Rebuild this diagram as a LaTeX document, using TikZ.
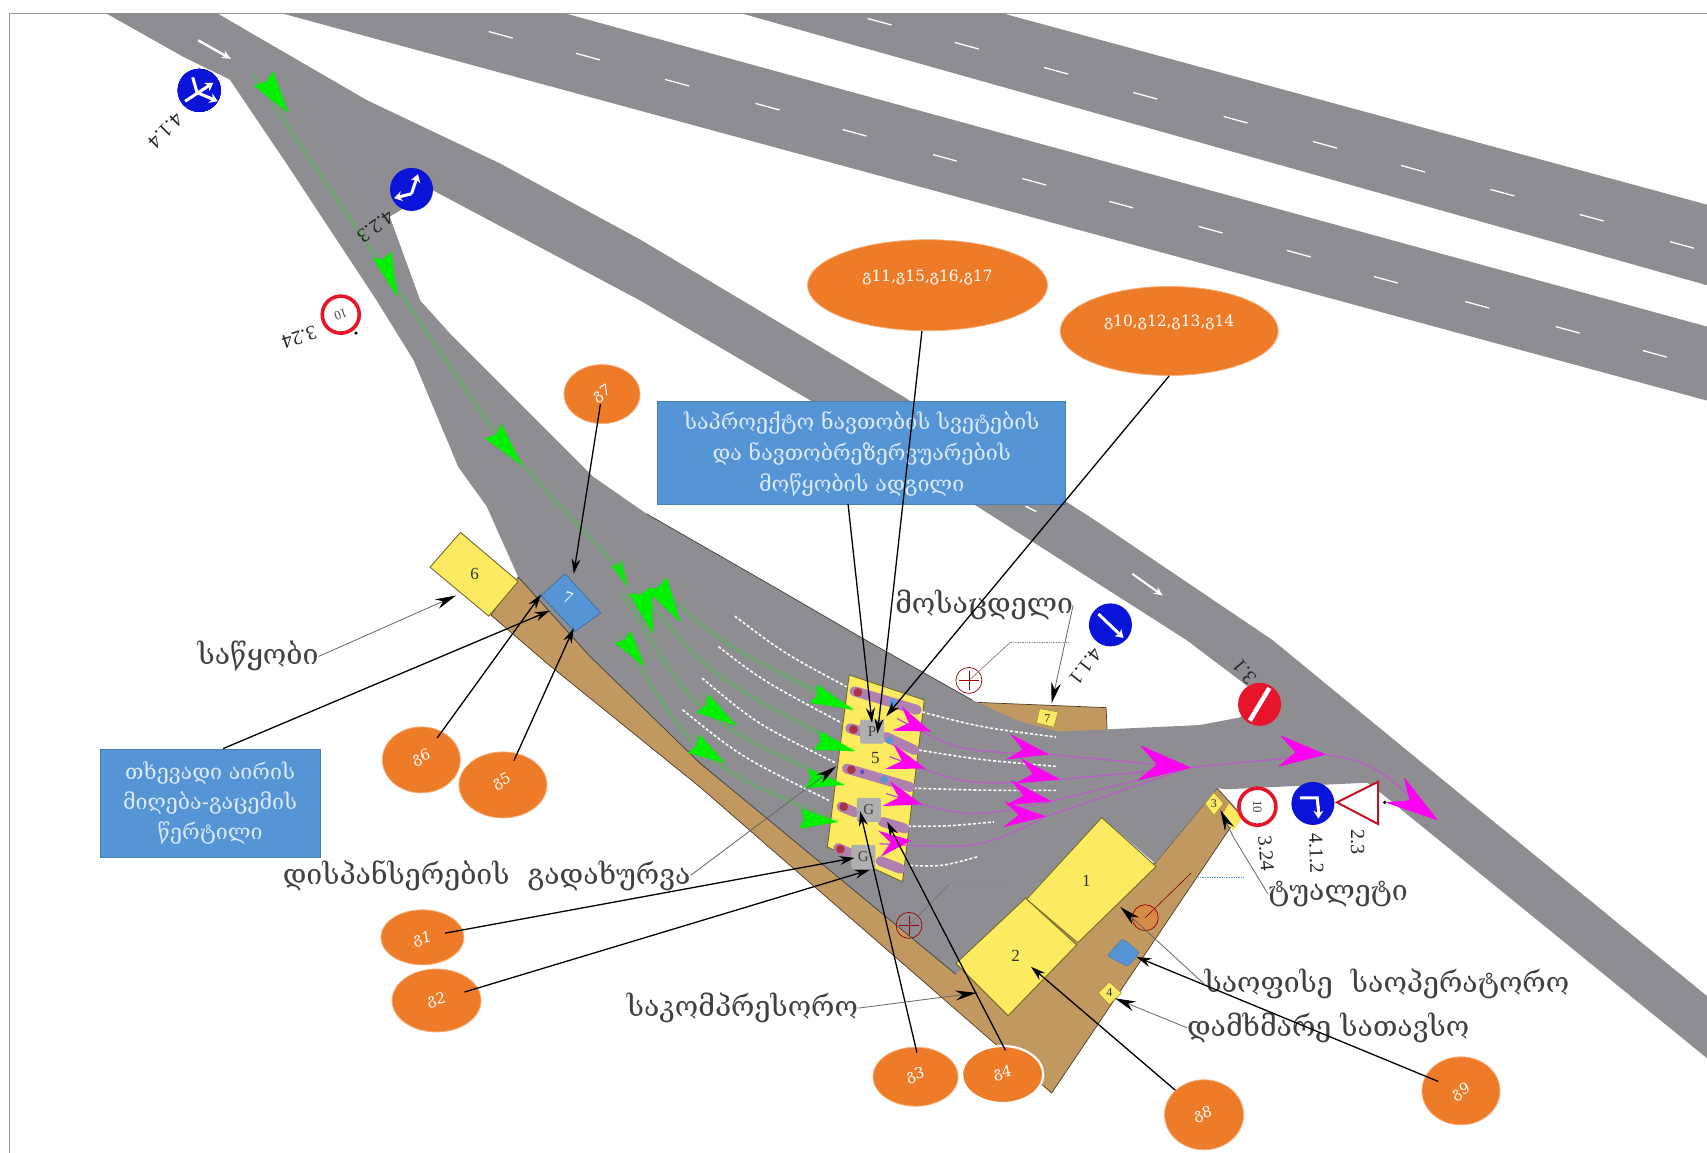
\documentclass[tikz,border=0pt]{standalone}
\usepackage{fontspec}
\usetikzlibrary{arrows.meta,shapes.geometric,calc}
\setmainfont{Liberation Serif}
\newfontfamily\geo{DejaVu Serif}
\newfontfamily\geos{DejaVu Sans}
\definecolor{roadc}{HTML}{8E8E92}
\definecolor{brownc}{HTML}{C19860}
\definecolor{yelc}{HTML}{FCEB60}
\definecolor{orc}{HTML}{EE7B28}
\definecolor{boxc}{HTML}{5595D5}
\definecolor{signb}{HTML}{0A14D8}
\definecolor{signr}{HTML}{E8142A}
\definecolor{capc}{HTML}{B080B0}
\definecolor{txtc}{HTML}{404040}
\definecolor{boxt}{HTML}{DCE9F8}
\definecolor{magl}{HTML}{B85CC8}
\definecolor{magk}{HTML}{FF00F0}
\definecolor{grk}{HTML}{00F000}
\tikzset{
 roadfill/.style={fill=roadc,draw=none},
 lanedash/.style={white,line width=1.3pt},
 hdash/.style={white,line width=1.6pt,dash pattern=on 3pt off 2pt},
 bld/.style={fill=yelc,draw=black!55!yelc,line width=.9pt},
 numtxt/.style={font=\fontsize{17}{17}\selectfont,text=black!80,inner sep=0pt},
 callout/.style={ellipse,fill=orc,draw=orc!60!white,line width=.8pt,inner sep=0pt,text=white},
 ctxt/.style={font=\geo\fontsize{15}{15}\selectfont},
 etxt/.style={font=\geo\fontsize{15.5}{15.5}\selectfont},
 infobox/.style={fill=boxc,draw=boxc!85!black,line width=.6pt,inner sep=0pt,text=boxt,align=center},
 geolabel/.style={text=txtc,inner sep=0pt,font=\geo\fontsize{28.4}{28.4}\selectfont},
 conn/.style={black,line width=1.3pt,-{Stealth[length=15pt,width=9pt]}},
 thinconn/.style={black!60,line width=.8pt,-{Stealth[length=21pt,width=10pt,black,fill=black]}},
 capsule/.style={capc,line width=10pt,line cap=round},
 capend/.style={fill=black!35!red!60!capc,draw=none},
 pump/.style={fill=black!5!gray!60!white,rounded corners=2pt,inner sep=0pt,minimum size=24pt,font=\fontsize{15}{15}\selectfont,text=black!75},
 bluesign/.style={circle,fill=signb,draw=none,minimum size=43pt,inner sep=0pt},
 redring/.style={circle,fill=white,draw=signr,line width=3.6pt,minimum size=37pt,inner sep=0pt,font=\fontsize{13}{13}\selectfont,text=black!70},
 redsign/.style={circle,fill=signr,minimum size=43pt,inner sep=0pt},
 signarrow/.style={white,line width=3pt,-{Stealth[length=8pt,width=10pt]}},
 signlab/.style={inner sep=0pt,font=\fontsize{20}{20}\selectfont,text=black!85},
 hydrant/.style={circle,draw=red!60!black,fill=white,fill opacity=0,line width=.7pt,minimum size=26pt,inner sep=0pt},
 leader/.style={black!55,line width=.6pt},
 scribble/.style={black!45,line width=1.6pt,dash pattern=on 1.4pt off 1pt},
 glane/.style={grk,opacity=.18,line width=4pt},
 mline/.style={magl,line width=1.3pt},
}
\newcommand\kite[5]{\fill[#1] ($(#2)!#4!90:(#3)$) -- (#3) -- ($(#2)!#4!-90:(#3)$) -- ($(#2)!#5!(#3)$) -- cycle;}
\begin{document}
\begin{tikzpicture}[x=1.08865pt,y=-1.08865pt]
\useasboundingbox (0,0) rectangle (1568,1059);
\fill[white] (0,0) rectangle (1568,1059);
\draw[black!40,line width=.8pt] (9,1059) -- (9,12) -- (1568,12);
% two upper carriageways
\fill[roadfill] (680,12) -- (920,12) -- (1568,188) -- (1568,262) -- cycle;
\fill[roadfill] (258,12) -- (518,12) -- (1568,300) -- (1568,368) -- cycle;
\foreach \x/\y in {808/20,888/42,970/65,1052/88,1135/110,1217/133,1298/155,1380/177,1462/200,1545/225}
  \draw[lanedash] (\x-11,\y-3) -- (\x+11,\y+3);
\foreach \x/\y in {460/32,540/52,622/76,705/98,785/122,868/145,950/167,1030/188,1112/211,1193/233,1273/257,1357/280,1440/303,1520/325}
  \draw[lanedash] (\x-11,\y-3) -- (\x+11,\y+3);
% brown apron
\fill[brownc,draw=black!60!brownc,line width=.7pt] (451,565) -- (502,609) -- (643,723) -- (966,1004) -- (1139,747) -- (1118,724) -- (1061,793) -- (878,890) -- (643,701) -- (476,530) -- cycle;
\fill[brownc,draw=black!60!brownc,line width=.7pt] (893,645) -- (1016,650) -- (1017,672) -- (960,675) -- cycle;
% artery and service lane
\fill[roadfill] (199,12) -- (337,92) -- (459,150) -- (588,220) -- (831,365) -- (1006,478) -- (1169,588) -- (1359,744) -- (1568,915) -- (1568,972) -- (1359,802) -- (1268,728) -- (1139,625) -- (1090,588) -- (899,466) -- (743,367) -- (588,276) -- (398,175) -- (300,100) -- cycle;
\fill[roadfill] (97,12) -- (168,52) -- (211,73) -- (263,150) -- (346,276) -- (380,331) -- (421,429) -- (447,465) -- (476,530) -- (542,603) -- (643,701) -- (878,895) -- (1012,751) -- (1061,793) -- (1118,724) -- (1127,725) -- (1190,722) -- (1256,719) -- (1268,728) -- (1300,700) -- (1175,630) -- (1139,659) -- (1102,666) -- (972,672) -- (935,662) -- (893,643) -- (790,585) -- (716,542) -- (594,472) -- (545,438) -- (413,306) -- (386,276) -- (358,199) -- (398,175) -- (420,165) -- (330,90) -- (199,12) -- cycle;
\draw[black!55!roadc,line width=.7pt] (476,530) -- (542,603) -- (643,701) -- (878,895);
\draw[black!55!roadc,line width=.7pt] (594,472) -- (716,542) -- (790,585) -- (893,643);
% road arrows
\draw[white,line width=2pt,-{Stealth[length=9pt,width=8pt]}] (1040,527) -- (1068,547);
\draw[white,line width=2.4pt,-{Stealth[length=9pt,width=8pt]}] (182,37) -- (212,54);
\draw[lanedash] (942,465) -- (952,470);
% buildings
\node[infobox,minimum width=408pt,minimum height=103pt] (topbox) at (791.5,415.5) {};
\fill[bld] (943,826) -- (1012,751) -- (1062,796) -- (990,866) -- cycle;
\fill[bld] (878,885) -- (942,825) -- (989,868) -- (926,933) -- cycle;
\fill[bld] (423,489) -- (476,534) -- (449,566) -- (395,521) -- cycle;
\fill[bld] (780,620) -- (849,643) -- (829,810) -- (760,778) -- cycle;
\fill[boxc,draw=boxc!70!black,line width=.6pt] (519,527) -- (552,563) -- (528,580) -- (497,547) -- cycle;
\node[numtxt] (n1) at (998,809) {1};
\node[numtxt] (n2) at (933,878) {2};
\node[numtxt] (n5) at (804,696) {5};
\node[numtxt] (n6) at (436,527) {6};
\node[numtxt,text=white,rotate=-20] (n7) at (522,549) {7};
% small kiosks
\fill[yelc,draw=black!40!yelc,line width=.5pt] (955,651) -- (972,654) -- (968,668) -- (952,664) -- cycle;
\node[numtxt,font=\fontsize{12}{12}\selectfont] (n7b) at (962,660) {7};
\fill[yelc,draw=black!40!yelc,line width=.5pt] (1115,728) -- (1124,738) -- (1115,749) -- (1107,738) -- cycle;
\node[numtxt,font=\fontsize{12}{12}\selectfont] (n3) at (1115,738) {3};
\fill[yelc] (1129,738) -- (1141,752) -- (1133,763) -- (1122,750) -- cycle;
\fill[yelc,draw=black!40!yelc,line width=.5pt] (1019,902) -- (1030,912) -- (1019,923) -- (1009,912) -- cycle;
\node[numtxt,font=\fontsize{12}{12}\selectfont] (n4) at (1019,912) {4};
\fill[boxc,rounded corners=3pt,draw=boxc!80!black,line width=.4pt] (1031,862) -- (1047,875) -- (1036,888) -- (1017,878) -- cycle;
% dashed guide lines
\foreach \a/\b/\c/\d/\e/\f in {675/566/720/600/778/631,660/594/700/625/773/664,645/623/695/665/768/701,627/652/680/695/763/736,847/654/900/668/970/677,844/689/900/698/970/704,839/724/900/726/970/726,834/759/870/759/913/755,836/795/865/796/898/787}
  \draw[hdash] (\a,\b) .. controls (\c,\d) .. (\e,\f);
% dispensers
\foreach \a/\b/\c/\d in {785/635/842/652,781/669/792/672,814/677/840/689,778/706/836/723,773/741/785/746,811/755/831/761,770/779/781/784,809/791/827/798}
  \draw[capsule] (\a,\b) -- (\c,\d);
\foreach \a/\b in {788/636,784/670,782/707,775/741,772/780}
  \fill[capend] (\a,\b) circle[radius=4];
\foreach \a/\b in {820/645,817/680,812/716}
  \fill[boxc] (\a,\b) circle[radius=3.5];
\fill[signb!50!capc] (792,709) circle[radius=2];
\node[pump] (pA) at (801,672) {P};
\node[pump] (pB) at (798,744) {G};
\node[pump] (pC) at (793,787) {G};
% green traffic
\draw[glane] (232,68) -- (355,250) -- (460,405) -- (575,530);
\draw[glane] (603,536) .. controls (660,590) .. (784,652);
\draw[glane] (588,542) .. controls (650,620) .. (785,690);
\draw[glane] (572,545) .. controls (640,660) .. (776,721);
\draw[glane] (572,585) .. controls (640,700) .. (770,755);
\kite{grk}{242,72}{265,104}{12pt}{.1}
\kite{grk}{351,234}{365,273}{10pt}{.1}
\kite{grk}{453,396}{480,428}{11pt}{.1}
\kite{grk}{603,536}{625,572}{12pt}{.1}
\kite{grk}{588,542}{600,583}{12pt}{.1}
\kite{grk}{572,585}{592,612}{10pt}{.1}
\kite{grk!85!roadc}{566,517}{577,540}{6pt}{.1}
\kite{grk}{645,646}{677,667}{11pt}{.1}
\kite{grk}{637,683}{666,701}{11pt}{.1}
\kite{grk}{747,637}{784,652}{10pt}{.1}
\kite{grk}{750,680}{785,690}{10pt}{.1}
\kite{grk}{741,715}{776,721}{10pt}{.1}
\kite{grk}{735,752}{770,755}{10pt}{.1}
% magenta traffic
\draw[mline] (824,660) .. controls (880,690) .. (964,693) -- (1093,705);
\draw[mline] (817,695) .. controls (890,722) .. (974,716) -- (1093,705);
\draw[mline] (814,729) .. controls (890,752) .. (966,736) -- (1093,705);
\draw[mline] (808,775) .. controls (900,780) .. (961,750) -- (1093,705);
\draw[mline] (1093,705) -- (1217,693) .. controls (1260,700) .. (1320,753);
\foreach \a/\b/\c/\d in {824/660/855/672,817/695/850/706,814/729/847/739,808/775/837/772,926/686/964/693,935/708/974/716,926/728/966/736,922/748/961/750}
  \kite{magk}{\a,\b}{\c,\d}{13pt}{.35}
\kite{magk}{1047,701}{1093,705}{17pt}{.35}
\kite{magk}{1176,690}{1217,693}{15pt}{.35}
\kite{magk}{1282,726}{1320,753}{15pt}{.35}
% upper signs
\node[bluesign] (s414) at (183,83) {};
\draw[signarrow] (170,93) -- (196,76);
\draw[white,line width=3pt] (181,85) -- (177,71);
\draw[signarrow] (181,85) -- (200,93);
\node[signlab,rotate=225] (l414) at (152,120) {4.1.4};
\node[bluesign] (s423) at (378,174) {};
\draw[signarrow] (378,178) -- (384,160);
\draw[signarrow] (378,178) -- (362,182);
\node[signlab,rotate=216] (l423) at (345,208) {4.2.3};
\node[redring,rotate=200] (s324a) at (313,289) {10};
\node[signlab,rotate=198] (l324a) at (275,310) {3.24};
\fill (327,306) circle[radius=1.7];
\node[bluesign] (s411) at (1020,574) {};
\draw[signarrow] (1009,564) -- (1032,586);
\node[signlab,rotate=232] (l411) at (997,612) {4.1.1};
\node[redsign] (s31) at (1157,647) {};
\draw[white,line width=4.5pt] (1148,662) -- (1166,632);
\node[signlab,rotate=130] (l31) at (1143,617) {3.1};
\node[redring,rotate=-90] (s324b) at (1155,741) {10};
\node[signlab,rotate=-85] (l324b) at (1163,784) {3.24};
\node[bluesign] (s412) at (1206,738) {};
\draw[white,line width=3pt] (1194,733) -- (1210,733) -- (1211,744);
\draw[signarrow] (1211,740) -- (1211,752);
\node[signlab,rotate=-88] (l412) at (1209,784) {4.1.2};
\draw[signr!85!black,line width=2pt,fill=white] (1228,737) -- (1266,718) -- (1266,757) -- cycle;
\fill (1272,737) circle[radius=1.7];
\node[signlab,rotate=-90] (l23) at (1247,773) {2.3};
% hydrants with leaders
\foreach \n/\a/\b/\c/\d/\e in {hA/890/625/928/590/982,hB/835/850/872/812/925}{
  \node[hydrant] (\n) at (\a,\b) {};
  \draw[red!60!black,line width=.6pt] (\a-9,\b) -- (\a+9,\b) (\a,\b-9) -- (\a,\b+9);
  \draw[leader] (\n.center) -- (\c,\d);
  \draw[scribble] (\c,\d) -- (\e,\d);
}
\node[hydrant,fill=orc,fill opacity=.45] (hC) at (1052,843) {};
\draw[leader,red!50!black] (hC.center) -- (1094,802);
\draw[scribble,boxc] (1100,806) -- (1142,806);
% connectors' free ends
\coordinate (tA) at (806,674);
\coordinate (tB) at (801,664);
\coordinate (tC) at (814,658);
\coordinate (t7) at (527,527);
\coordinate (t6) at (497,546);
\coordinate (t5) at (527,577);
\coordinate (tBox) at (505,561);
\coordinate (tStore) at (419,547);
\coordinate (tCan) at (768,704);
\coordinate (t1) at (785,788);
\coordinate (t2) at (799,799);
\coordinate (t3) at (790,745);
\coordinate (t4) at (815,755);
\coordinate (tComp) at (897,912);
\coordinate (t8) at (947,888);
\coordinate (t9) at (1044,879);
\coordinate (tAux) at (1024,917);
\coordinate (tOff) at (1029,833);
\coordinate (tWc) at (1121,744);
\coordinate (tWait) at (966,646);
% callouts
\node[callout,minimum width=240pt,minimum height=91pt] (e1) at (852,262) {};
\node[callout,minimum width=218pt,minimum height=89pt] (e2) at (1074,304) {};
\node[callout,minimum width=76pt,minimum height=59pt] (c7) at (553,362) {};
\node[callout,minimum width=78pt,minimum height=66pt] (c6) at (387,698) {};
\node[callout,minimum width=88pt,minimum height=66pt] (c5) at (462,721) {};
\node[callout,minimum width=83pt,minimum height=55pt] (c1) at (388,861) {};
\node[callout,minimum width=89pt,minimum height=63pt] (c2) at (401,919) {};
\node[callout,minimum width=85pt,minimum height=59pt] (c3) at (841,989) {};
\node[callout,draw=white,line width=2.2pt,minimum width=81pt,minimum height=57pt] (c4) at (921,987) {};
\node[callout,minimum width=79pt,minimum height=70pt] (c8) at (1106,1024) {};
\node[callout,minimum width=78pt,minimum height=68pt] (c9) at (1342,1002) {};
\node[etxt,text=white,inner sep=0pt] (x1) at (852,255) {გ11,გ15,გ16,გ17};
\node[etxt,text=white,inner sep=0pt] (x2) at (1074,296) {გ10,გ12,გ13,გ14};
\foreach \n/\t/\a/\b/\r in {y7/გ7/553/362/30,y6/გ6/387/696/20,y5/გ5/461/718/25,y1/გ1/388/863/10,y2/გ2/401/919/10,y3/გ3/841/988/15,y4/გ4/921/986/10,y8/გ8/1105/1024/15,y9/გ9/1342/1003/25}
  \node[ctxt,text=white,inner sep=0pt,rotate=\r] (\n) at (\a,\b) {\t};
% info boxes text
\node[inner sep=0pt,text=boxt,align=center,font=\geo\fontsize{21.4}{31}\selectfont] (topt) at (791.5,417) {საპროექტო ნავთობის სვეტების\\და ნავთობრეზერვუარების\\მოწყობის ადგილი};
\node[infobox,minimum width=220pt,minimum height=108pt,font=\geo\fontsize{21.4}{30}\selectfont] (lbox) at (193,737.5) {თხევადი აირის\\მიღება-გაცემის\\წერტილი};
% labels
\node[geolabel] (gStore) at (237,603) {საწყობი};
\node[geolabel] (gCan) at (447,804) {დისპანსერების~~გადახურვა};
\node[geolabel] (gComp) at (682,926) {საკომპრესორო};
\node[geolabel] (gWait) at (904,556) {მოსაცდელი};
\node[geolabel] (gWc) at (1229,821) {ტუალეტი};
\node[geolabel] (gOff) at (1274,904) {საოფისე~~საოპერატორო};
\node[geolabel] (gAux) at (1220,944) {დამხმარე სათავსო};
% connectors
\draw[conn] (e1.263) -- (tA);
\draw[conn] (topbox.south -| 779,463) -- (tB);
\draw[conn] (e2.south) -- (tC);
\draw[conn,shorten <=-20pt] (c7) -- (t7);
\draw[conn,shorten <=-8pt] (c6) -- (t6);
\draw[conn,shorten <=-8pt] (c5) -- (t5);
\draw[conn] (lbox.north -| 205,688) -- (tBox);
\draw[thinconn] (gStore.east) -- (tStore);
\draw[thinconn] (gCan.east) -- (tCan);
\draw[conn,shorten <=-18pt] (c1) -- (t1);
\draw[conn,shorten <=-14pt] (c2) -- (t2);
\draw[conn,shorten <=-6pt] (c3.north) -- (t3);
\draw[conn,shorten <=-6pt] (c4.north) -- (t4);
\draw[thinconn] (gComp.east) -- (tComp);
\draw[conn] (c8) -- (t8);
\draw[conn,shorten <=-14pt] (c9) -- (t9);
\draw[thinconn] (gAux.west) -- (tAux);
\draw[thinconn] (gOff.west) -- (tOff);
\draw[thinconn] (gWc.west) -- (1133,769) -- (tWc);
\draw[thinconn] (gWait.east) -- (tWait);
\end{tikzpicture}
\end{document}
